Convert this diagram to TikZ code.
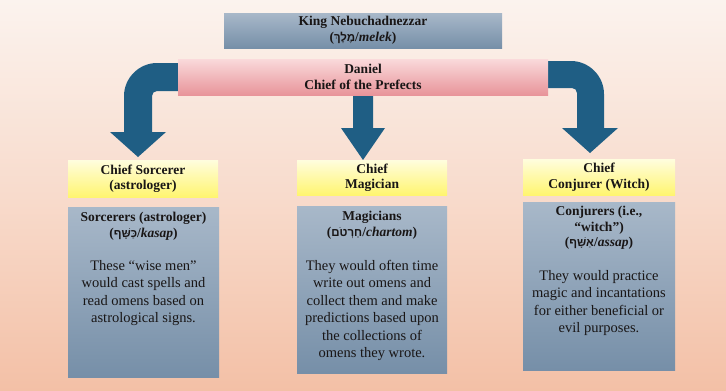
\documentclass[tikz,border=0pt]{standalone}
\usepackage{fontspec}
\setmainfont{Liberation Serif}
\newfontfamily\hebfont[Script=Hebrew,Scale=0.85]{Liberation Sans}
\TeXXeTstate=1
\newcommand\hebw[1]{{\hebfont\beginR #1\endR}}
\definecolor{bgtop}{RGB}{251,243,238}
\definecolor{bgmid}{RGB}{248,219,204}
\definecolor{bgbot}{RGB}{243,192,166}
\definecolor{slatetop}{RGB}{168,184,201}
\definecolor{slatebot}{RGB}{118,143,168}
\definecolor{pinktop}{RGB}{250,218,219}
\definecolor{pinkbot}{RGB}{232,148,154}
\definecolor{yeltop}{RGB}{255,253,222}
\definecolor{yelbot}{RGB}{255,245,112}
\definecolor{arrowblue}{RGB}{31,94,132}
\definecolor{ink}{RGB}{25,22,22}
\tikzset{
  slatebox/.style={rectangle, inner sep=0pt, top color=slatetop, bottom color=slatebot, draw=none},
  pinkbox/.style={rectangle, inner sep=0pt, top color=pinktop, bottom color=pinkbot, draw=none},
  yelbox/.style={rectangle, inner sep=0pt, top color=yeltop, bottom color=yelbot, draw=none},
  headtxt/.style={inner sep=0pt, align=center, text=ink, font=\fontsize{13.5}{15.5}\selectfont\bfseries},
  bodytxt/.style={inner sep=0pt, align=center, text=ink, font=\fontsize{14.5}{17.5}\selectfont},
  bigarrow/.style={fill=arrowblue, draw=none}
}
\begin{document}
\begin{tikzpicture}[x=1pt,y=-1pt]
% background
\shade[top color=bgtop, bottom color=bgbot, middle color=bgmid] (0,0) rectangle (726,391);
\useasboundingbox (0,0) rectangle (726,391);

% top boxes
\node[slatebox, minimum width=278pt, minimum height=35pt] (king) at (363,30.5) {};
\node[headtxt] (kingtxt) at (king.center) {King Nebuchadnezzar\\(\hebw{מֶלֶךְ}/\textit{melek})};

% arrows (drawn under Daniel box)
\coordinate (tipL) at (138,157);
\coordinate (tipM) at (363,160);
\coordinate (tipR) at (590,153);
\fill[bigarrow] (185,63) -- (157,63) .. controls (139,63) and (124,78) .. (124,96)
  -- (124,132) -- (110,132) -- (tipL) -- (166,132) -- (152,132) -- (152,96)
  .. controls (152,93.2) and (154.2,91) .. (157,91) -- (185,91) -- cycle;
\fill[bigarrow] (353,90) -- (373,90) -- (373,128) -- (385,128) -- (tipM) -- (341,128) -- (353,128) -- cycle;
\fill[bigarrow] (540,61) -- (571,61) .. controls (589,61) and (604,76) .. (604,94)
  -- (604,128) -- (618,128) -- (tipR) -- (562,128) -- (577,128) -- (577,93)
  .. controls (577,90.2) and (574.8,88) .. (572,88) -- (540,88) -- cycle;

\node[pinkbox, minimum width=370pt, minimum height=36pt] (daniel) at (363,77) {};
\node[headtxt] (danieltxt) at (daniel.center) {Daniel\\Chief of the Prefects};

% yellow chief boxes
\node[yelbox, minimum width=150pt, minimum height=37pt] (chiefL) at (143,178.5) {};
\node[headtxt] at (chiefL.center) {Chief Sorcerer\\(astrologer)};
\node[yelbox, minimum width=150pt, minimum height=35pt] (chiefM) at (372,177.5) {};
\node[headtxt] at (chiefM.center) {Chief\\Magician};
\node[yelbox, minimum width=152pt, minimum height=36pt] (chiefR) at (599,177) {};
\node[headtxt] at (chiefR.center) {Chief\\Conjurer (Witch)};

% slate description boxes
\node[slatebox, minimum width=151pt, minimum height=170pt] (descL) at (143.5,292) {};
\node[slatebox, minimum width=150pt, minimum height=167pt] (descM) at (372,289.5) {};
\node[slatebox, minimum width=152pt, minimum height=168pt] (descR) at (599,286) {};

\node[headtxt, anchor=north] at (143.5,212) {Sorcerers (astrologer)\\(\hebw{כַּשָּׁף}/\textit{kasap})};
\node[bodytxt, anchor=north] at (143.5,260) {These “wise men”\\would cast spells and\\read omens based on\\astrological signs.};

\node[headtxt, anchor=north] at (372,211) {Magicians\\(\hebw{חַרְטֹם}/\textit{chartom})};
\node[bodytxt, anchor=north] at (372,260) {They would often time\\write out omens and\\collect them and make\\predictions based upon\\the collections of\\omens they wrote.};

\node[headtxt, anchor=north] at (599,206) {Conjurers (i.e.,\\“witch”)\\(\hebw{אַשָּׁף}/\textit{assap})};
\node[bodytxt, anchor=north] at (599,270) {They would practice\\magic and incantations\\for either beneficial or\\evil purposes.};
\end{tikzpicture}
\end{document}
